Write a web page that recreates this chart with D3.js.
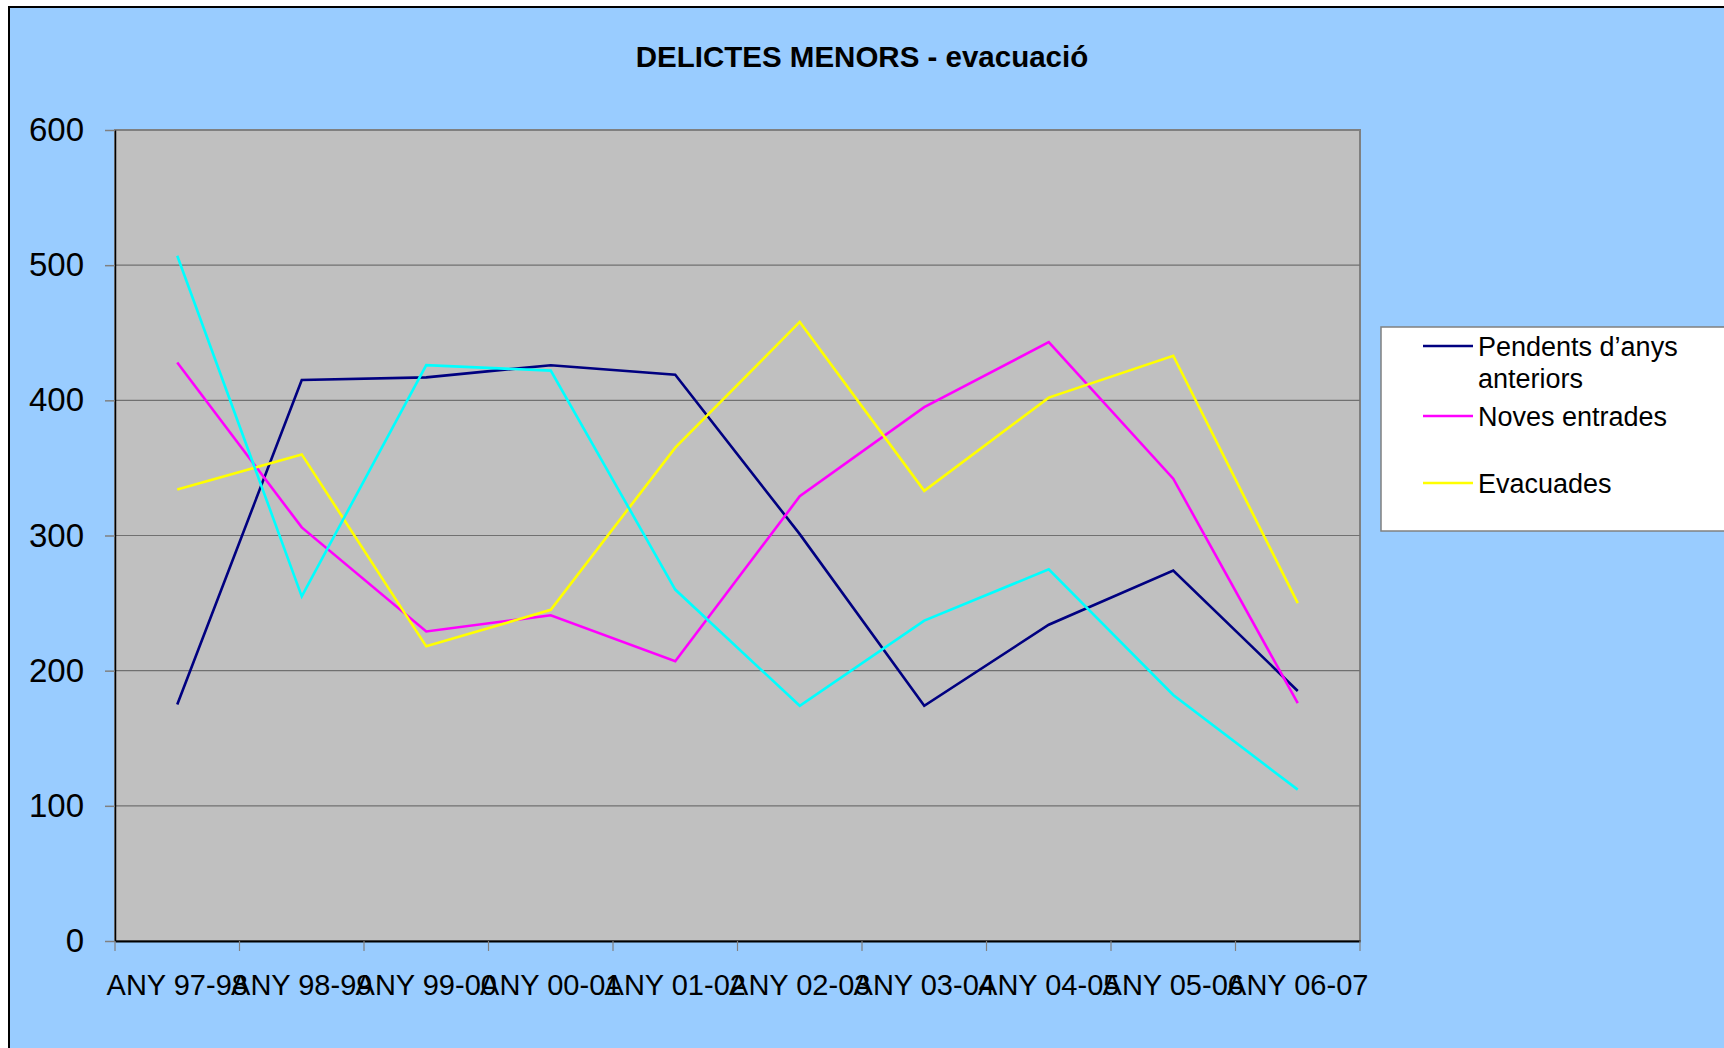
<!DOCTYPE html>
<html>
<head>
<meta charset="utf-8">
<script src="https://cdn.jsdelivr.net/npm/d3@7"></script>
<style>
  body { margin: 0; background: #fff; }
  svg { display: block; font-family: "Liberation Sans", Arial, sans-serif; }
</style>
</head>
<body>
<svg width="1724" height="1048"></svg>
<script>
// categories and values
const years = ['ANY 97-98', 'ANY 98-99', 'ANY 99-00', 'ANY 00-01', 'ANY 01-02',
               'ANY 02-03', 'ANY 03-04', 'ANY 04-05', 'ANY 05-06', 'ANY 06-07'];
const pendents = [175, 415, 417, 426, 419, 301, 174, 234, 274, 185];
const noves = [428, 306, 229, 241, 207, 329, 395, 443, 342, 176];
const evacuades = [334, 360, 218, 245, 365, 458, 333, 402, 433, 250];
const pendentsFinal = [507, 255, 426, 422, 260, 174, 237, 275, 182, 112]; // cyan, no legend entry
const yTicks = [0, 100, 200, 300, 400, 500, 600];

const series = [
  { values: pendents, color: '#000080' },
  { values: noves, color: '#FF00FF' },
  { values: evacuades, color: '#FFFF00' },
  { values: pendentsFinal, color: '#00FFFF' }
];
const legendItems = [
  { lines: ['Pendents d\u2019anys', 'anteriors'], color: '#000080' },
  { lines: ['Noves entrades'], color: '#FF00FF' },
  { lines: ['Evacuades'], color: '#FFFF00' }
];

const svg = d3.select('svg');
const plot = { left: 115, right: 1360, top: 130, bottom: 941 };

// background + frame
svg.append('rect')
  .attr('x', 9).attr('y', 7).attr('width', 1740).attr('height', 1060)
  .attr('fill', '#99CCFF').attr('stroke', '#000').attr('stroke-width', 2);

svg.append('text')
  .attr('x', 862).attr('y', 67)
  .attr('text-anchor', 'middle')
  .style('font-size', '29.5px').style('font-weight', 'bold')
  .text('DELICTES MENORS - evacuació');

const x = d3.scaleBand().domain(years).range([plot.left, plot.right]).padding(0);
const y = d3.scaleLinear().domain([0, 600]).range([plot.bottom, plot.top]);

svg.append('rect')
  .attr('x', plot.left).attr('y', plot.top)
  .attr('width', plot.right - plot.left).attr('height', plot.bottom - plot.top)
  .attr('fill', '#C0C0C0').attr('stroke', '#808080').attr('stroke-width', 2);

// gridlines
svg.append('g').selectAll('line')
  .data(yTicks.filter(d => d > 0 && d < 600))
  .join('line')
  .attr('x1', plot.left).attr('x2', plot.right)
  .attr('y1', d => y(d)).attr('y2', d => y(d))
  .attr('stroke', '#707070').attr('stroke-width', 1.2);

// y axis
const yAxis = svg.append('g')
  .attr('transform', `translate(${plot.left},0)`)
  .call(d3.axisLeft(y).tickValues(yTicks).tickSize(10).tickPadding(21).tickSizeOuter(0));
yAxis.select('.domain').attr('stroke', '#000').attr('stroke-width', 1.5);
yAxis.selectAll('.tick line').attr('stroke', '#808080').attr('stroke-width', 1.5);
yAxis.selectAll('text').style('font-size', '33px').attr('fill', '#000');

// x axis: labels centred in bands, ticks on band edges
const xAxis = svg.append('g')
  .attr('transform', `translate(0,${plot.bottom})`)
  .call(d3.axisBottom(x).tickSize(0).tickPadding(33));
xAxis.select('.domain').attr('stroke', '#000').attr('stroke-width', 2);
xAxis.selectAll('text').style('font-size', '29px').attr('fill', '#000');
svg.append('g').selectAll('line')
  .data(d3.range(years.length + 1))
  .join('line')
  .attr('x1', i => plot.left + i * x.step()).attr('x2', i => plot.left + i * x.step())
  .attr('y1', plot.bottom).attr('y2', plot.bottom + 10)
  .attr('stroke', '#808080').attr('stroke-width', 1.2);

// lines
const line = d3.line()
  .x((d, i) => x(years[i]) + x.bandwidth() / 2)
  .y(d => y(d));
svg.append('g').selectAll('path')
  .data(series)
  .join('path')
  .attr('d', d => line(d.values))
  .attr('fill', 'none')
  .attr('stroke', d => d.color)
  .attr('stroke-width', 2.6)
  .attr('stroke-linejoin', 'miter');

// legend
const legend = svg.append('g');
legend.append('rect')
  .attr('x', 1381).attr('y', 327).attr('width', 400).attr('height', 204)
  .attr('fill', '#fff').attr('stroke', '#808080').attr('stroke-width', 1.5);
const legendY = [346, 416, 483];
legendItems.forEach((item, i) => {
  legend.append('line')
    .attr('x1', 1423).attr('x2', 1473)
    .attr('y1', legendY[i]).attr('y2', legendY[i])
    .attr('stroke', item.color).attr('stroke-width', 2.6);
  item.lines.forEach((t, j) => {
    legend.append('text')
      .attr('x', 1478).attr('y', legendY[i] + 9.5 + j * 32.6)
      .style('font-size', '27px')
      .text(t);
  });
});
</script>
</body>
</html>
